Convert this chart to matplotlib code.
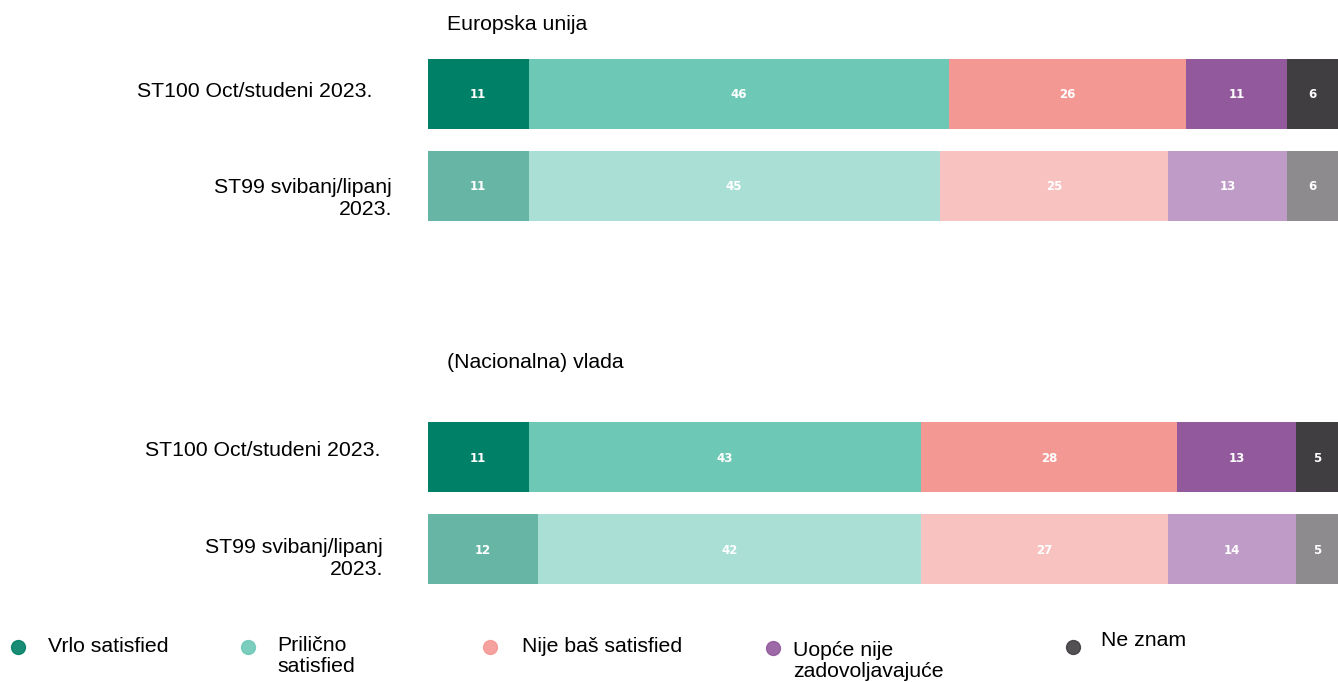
import matplotlib.pyplot as plt

# podaci
kategorije = ["Vrlo satisfied", "Prilično\nsatisfied", "Nije baš satisfied",
              "Uopće nije\nzadovoljavajuće", "Ne znam"]
redovi = ["ST100 Oct/studeni 2023.", "ST99 svibanj/lipanj\n2023.",
          "ST100 Oct/studeni 2023.", "ST99 svibanj/lipanj\n2023."]
naslovi = ["Europska unija", "(Nacionalna) vlada"]
eu_st100 = [11, 46, 26, 11, 6]
eu_st99 = [11, 45, 25, 13, 6]
vlada_st100 = [11, 43, 28, 13, 5]
vlada_st99 = [12, 42, 27, 14, 5]

boje = ["#008066", "#6DC8B6", "#F49894", "#92599C", "#403E40"]
boje_svijetle = ["#66B5A5", "#A9DFD5", "#F8C2C1", "#BF9CC8", "#8D8B8D"]

W, H = 1338, 682
fig = plt.figure(figsize=(W / 100, H / 100), dpi=100)

x_max = 99.6  # traka malo izlazi iz slike desno
ax = fig.add_axes([428 / W, 0, 910 / W, 1])
ax.set_xlim(0, x_max)
ax.set_ylim(H, 0)
ax.axis("off")

serije = [eu_st100, eu_st99, vlada_st100, vlada_st99]
y_pos = [94, 186, 457, 549]
for i, (vals, y) in enumerate(zip(serije, y_pos)):
    cols = boje if i % 2 == 0 else boje_svijetle
    lijevo = 0
    for v, c in zip(vals, cols):
        ax.barh(y, v, left=lijevo, height=70, color=c, edgecolor="none")
        sredina = lijevo + v / 2
        if lijevo + v > x_max:
            sredina = lijevo + (x_max - lijevo) / 2
        ax.text(sredina, y + 1, str(v), color="white", fontsize=8.5,
                fontweight="bold", ha="center", va="center",
                family="DejaVu Sans")
        lijevo += v

font = "Liberation Sans"
fs = 15.3
# oznake redova
lab_x = [372, 392, 380, 383]
lab_y = [91.5, 198.5, 450, 558.5]
for lab, lx, ly in zip(redovi, lab_x, lab_y):
    fig.text(lx / W, 1 - ly / H, lab, ha="right", va="center",
             fontsize=fs, family=font, linespacing=1.15)

fig.text(447 / W, 1 - 24 / H, naslovi[0], ha="left", va="center",
         fontsize=fs, family=font)
fig.text(447 / W, 1 - 363 / H, naslovi[1], ha="left", va="center",
         fontsize=fs, family=font)

# legenda
leg = fig.add_axes([0, 0, 1, 1], facecolor="none")
leg.set_xlim(0, W)
leg.set_ylim(H, 0)
leg.axis("off")
krug_x = [18, 248, 490, 773, 1073]
krug_y = [647, 647, 647, 648, 647]
tekst_x = [48, 277, 522, 793, 1101]
tekst_y = [647, 656, 647, 661, 641]
for k, c, kx, ky, tx, ty in zip(kategorije, boje, krug_x, krug_y, tekst_x, tekst_y):
    leg.plot(kx, ky, "o", color=c, markersize=10, alpha=0.9)
    leg.text(tx, ty, k, ha="left", va="center", fontsize=fs, family=font,
             linespacing=1.1)

fig.savefig("out.png", dpi=100)
